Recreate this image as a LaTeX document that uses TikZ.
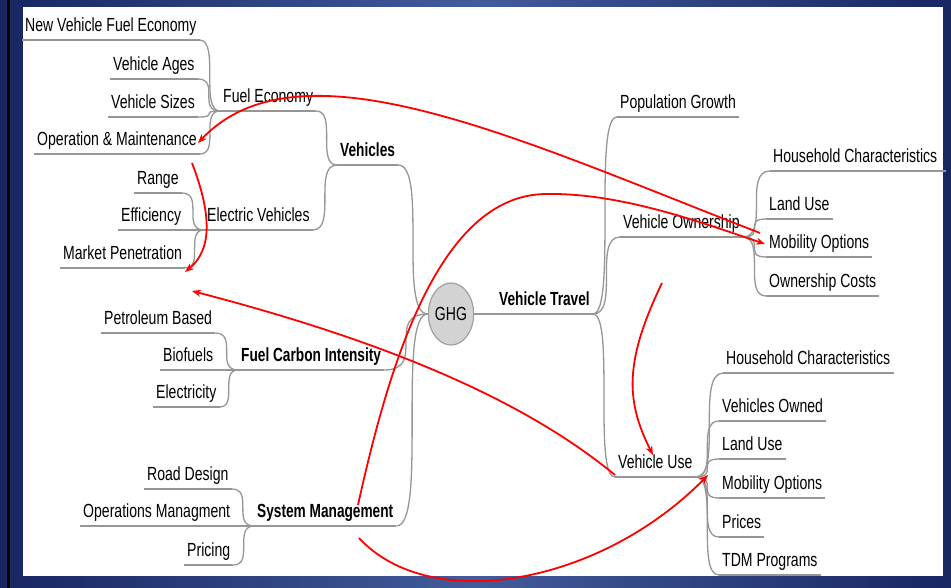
\documentclass[tikz,border=0pt]{standalone}
\usepackage{fontspec}
\setmainfont{Liberation Sans}[FakeStretch=0.74,BoldFeatures={FakeStretch=0.72}]
\usetikzlibrary{arrows.meta,shapes.geometric}
\definecolor{navyA}{RGB}{24,38,98}
\definecolor{navyB}{RGB}{66,92,155}
\definecolor{branchgray}{RGB}{150,150,150}
\definecolor{ghgfill}{RGB}{211,211,211}
\definecolor{ghgline}{RGB}{160,160,160}
\tikzset{
  lbl/.style={inner xsep=3pt, inner ysep=0pt, text height=14pt, text depth=8pt,
    font=\fontsize{19}{22}\selectfont, anchor=south west},
  hub/.style={lbl, font=\fontsize{19}{22}\selectfont\bfseries},
  branch/.style={draw=branchgray, line width=1.3pt},
  mm/.style={to path={.. controls (\tikztostart -| \tikztotarget) and (\tikztostart |- \tikztotarget) .. (\tikztotarget)}},
  link/.style={draw=red, line width=1.8pt, -{Stealth[length=9pt,width=7pt]}}
}
\begin{document}
\begin{tikzpicture}[x=1pt,y=-1pt]
\useasboundingbox (0,0) rectangle (951,588);
\shade[left color=navyA, right color=navyA, middle color=navyB] (0,0) rectangle (951,588);
\fill[black] (7,0) rectangle (10,588);
\fill[white] (23,7) rectangle (943,576);

% left side
\node[lbl] (nvfe) at (22,40) {New Vehicle Fuel Economy};
\node[lbl] (vage) at (110,79) {Vehicle Ages};
\node[lbl] (vsize) at (108,117) {Vehicle Sizes};
\node[lbl] (opm) at (34,154) {Operation \& Maintenance};
\node[lbl] (fe) at (220,111) {Fuel Economy};
\node[hub] (veh) at (337,165) {Vehicles};
\node[lbl] (ev) at (204,230) {Electric Vehicles};
\node[lbl] (range) at (134,193) {Range};
\node[lbl] (eff) at (118,230) {Efficiency};
\node[lbl] (mpen) at (60,268) {Market Penetration};
\node[hub] (fci) at (238,370) {Fuel Carbon Intensity};
\node[lbl] (pb) at (101,333) {Petroleum Based};
\node[lbl] (bio) at (160,370) {Biofuels};
\node[lbl] (elec) at (153,407) {Electricity};
\node[hub] (sm) at (254,526) {System Management};
\node[lbl] (rd) at (144,489) {Road Design};
\node[lbl] (om) at (80,526) {Operations Managment};
\node[lbl] (pr) at (184,565) {Pricing};

% centre
\node[ellipse, draw=ghgline, fill=ghgfill, line width=1.2pt, minimum width=44pt,
  minimum height=62pt, inner sep=0pt, font=\fontsize{19}{22}\selectfont] (ghg) at (451,314) {GHG};

% right side
\node[hub] (vt) at (496,314) {Vehicle Travel};
\node[lbl] (pg) at (617,117) {Population Growth};
\node[lbl] (vo) at (620,237) {Vehicle Ownership};
\node[lbl] (vu) at (615,477) {Vehicle Use};
\node[lbl] (hc1) at (770,171) {Household Characteristics};
\node[lbl] (lu1) at (766,219) {Land Use};
\node[lbl] (mo1) at (766,257) {Mobility Options};
\node[lbl] (oc) at (766,296) {Ownership Costs};
\node[lbl] (hc2) at (723,373) {Household Characteristics};
\node[lbl] (vow) at (719,421) {Vehicles Owned};
\node[lbl] (lu2) at (719,459) {Land Use};
\node[lbl] (mo2) at (719,498) {Mobility Options};
\node[lbl] (prc) at (719,537) {Prices};
\node[lbl] (tdm) at (719,575) {TDM Programs};

% underlines
\foreach \n in {nvfe,vage,vsize,opm,fe,veh,ev,range,eff,mpen,fci,pb,bio,elec,sm,rd,om,pr,
  vt,pg,vo,vu,hc1,lu1,mo1,oc,hc2,vow,lu2,mo2,prc,tdm}
  \draw[branch] (\n.south west) -- (\n.south east);
\draw[branch] (hc1.south east) -- ++(5,0);

% branches
\foreach \c in {nvfe,vage,vsize,opm} \draw[branch] (\c.south east) to[mm] (fe.south west);
\foreach \c in {range,eff,mpen} \draw[branch] (\c.south east) to[mm] (ev.south west);
\foreach \c in {fe,ev} \draw[branch] (\c.south east) to[mm] (veh.south west);
\foreach \c in {pb,bio,elec} \draw[branch] (\c.south east) to[mm] (fci.south west);
\foreach \c in {rd,om,pr} \draw[branch] (\c.south east) to[mm] (sm.south west);
\foreach \c in {veh,fci,sm} \draw[branch] (\c.south east) to[mm] (ghg.west);
\draw[branch] (ghg.east) -- (vt.south west);
\foreach \c in {pg,vo,vu} \draw[branch] (vt.south east) to[mm] (\c.south west);
\foreach \c in {hc1,lu1,mo1,oc} \draw[branch] (vo.south east) to[mm] (\c.south west);
\foreach \c in {hc2,vow,lu2,mo2,prc,tdm} \draw[branch] (vu.south east) to[mm] (\c.south west);

% red influence arrows
\coordinate (a1s) at (760,233);
\coordinate (a1e) at (198,143);
\coordinate (a2s) at (358,505);
\coordinate (a2m) at (545,194);
\coordinate (a2e) at (765,244);
\coordinate (a3s) at (192,163);
\coordinate (a3e) at (185,272);
\coordinate (a4s) at (615,475);
\coordinate (a4e) at (192,291);
\coordinate (a5s) at (662,283);
\coordinate (a5e) at (653,455);
\coordinate (a6s) at (359,538);
\coordinate (a6e) at (708,475);
\draw[link] (a1s) .. controls (520,140) and (300,35) .. (a1e);
\draw[link] (a2s) .. controls (390,360) and (440,196) .. (a2m) .. controls (620,192.5) and (700,222) .. (a2e);
\draw[link] (a3s) .. controls (212,215) and (212,250) .. (a3e);
\draw[link] (a4s) .. controls (530,405) and (400,345) .. (a4e);
\draw[link] (a5s) .. controls (625,360) and (625,400) .. (a5e);
\draw[link] (a6s) .. controls (430,615) and (600,585) .. (a6e);
\end{tikzpicture}
\end{document}
